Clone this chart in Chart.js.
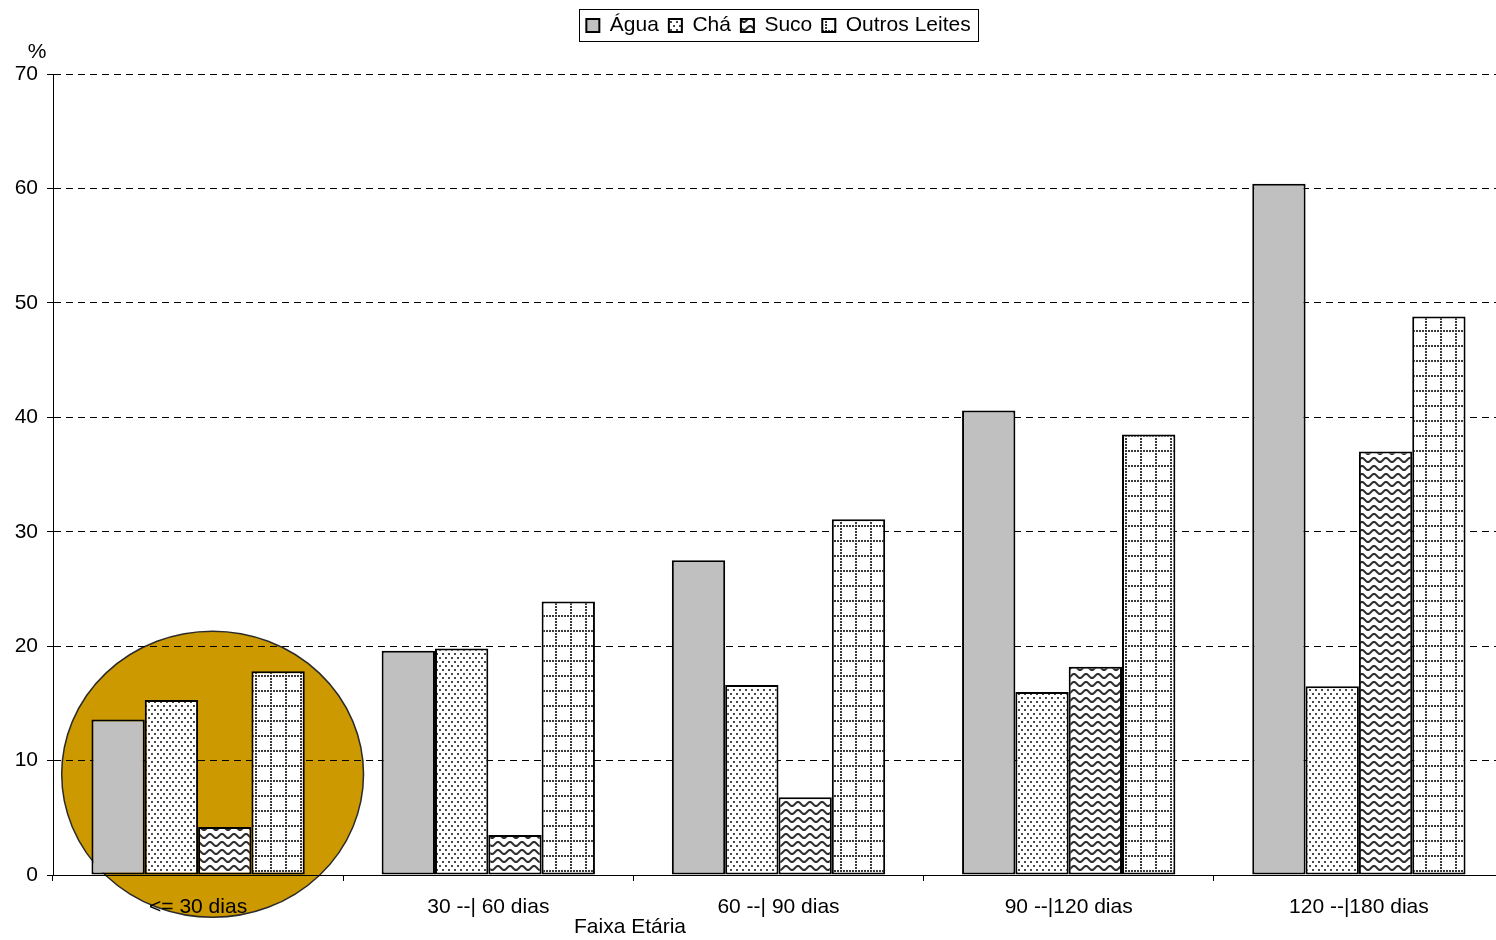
<!DOCTYPE html>
<html>
<head>
<meta charset="utf-8">
<script src="https://cdn.jsdelivr.net/npm/chart.js@4/dist/chart.umd.min.js"></script>
<style>
  html, body { margin: 0; padding: 0; background: #fff; overflow: hidden; }
  /* the plot runs a few pixels past the right edge, as in the original */
  #wrap { width: 1496px; height: 940px; overflow: hidden; }
</style>
</head>
<body>
<div id="wrap"><canvas id="chart" width="1504" height="940"></canvas></div>
<script>
  // data
  var categories = ['<= 30 dias', '30 --| 60 dias', '60 --| 90 dias', '90 --|120 dias', '120 --|180 dias'];
  var seriesNames = ['Água', 'Chá', 'Suco', 'Outros Leites'];
  var agua = [13.6, 19.6, 27.5, 40.6, 60.4];
  var cha = [15.3, 19.8, 16.6, 16.0, 16.5];
  var suco = [4.2, 3.5, 6.8, 18.2, 37.0];
  var outrosLeites = [17.8, 23.9, 31.1, 38.5, 48.8];
  var yMin = 0, yMax = 70, yStep = 10;
  var yUnit = '%';
  var xTitle = 'Faixa Etária';

  var FONT = '"Liberation Sans", Arial, sans-serif';

  function tile(w, h, paint) {
    var c = document.createElement('canvas');
    c.width = w; c.height = h;
    var g = c.getContext('2d');
    g.fillStyle = '#fff';
    g.fillRect(0, 0, w, h);
    paint(g);
    return document.createElement('canvas').getContext('2d').createPattern(c, 'repeat');
  }

  // small dots, staggered
  var dotPattern = tile(6, 8, function (g) {
    g.fillStyle = '#4a4a4a';
    g.fillRect(1, 1, 2, 2);
    g.fillRect(4, 5, 2, 2);
  });

  // wavy lines
  var wavePattern = tile(12, 8, function (g) {
    g.strokeStyle = '#2e2e2e';
    g.lineWidth = 2;
    g.beginPath();
    for (var x = -1; x <= 13; x += 0.5) {
      var y = 4 + 2 * Math.cos(2 * Math.PI * x / 12);
      if (x === -1) g.moveTo(x, y); else g.lineTo(x, y);
    }
    g.stroke();
  });

  // dotted grid
  var gridPattern = tile(15, 15, function (g) {
    g.fillStyle = '#3a3a3a';
    for (var i = 0; i < 15; i += 3) {
      g.fillRect(i, 0, 2, 2);
      if (i > 0) g.fillRect(0, i, 2, 2);
    }
  });

  var fills = ['#c0c0c0', dotPattern, wavePattern, gridPattern];
  var values = [agua, cha, suco, outrosLeites];

  var yTicks = [];
  for (var t = yMin; t <= yMax; t += yStep) yTicks.push(t);

  // golden ellipse behind the first group, gridlines run over it
  var highlightPlugin = {
    id: 'highlight',
    beforeDraw: function (chart) {
      var xs = chart.scales.x, ys = chart.scales.y;
      var catW = xs.width / categories.length;
      var cx = xs.getPixelForValue(0) + 0.05 * catW;
      var cy = ys.getPixelForValue(8.8);
      var rx = 0.52 * catW;
      var ry = ys.getPixelForValue(0) - ys.getPixelForValue(12.5);
      var ctx = chart.ctx;
      ctx.save();
      ctx.beginPath();
      ctx.ellipse(cx, cy, rx, ry, 0, 0, Math.PI * 2);
      ctx.fillStyle = '#cc9900';
      ctx.fill();
      ctx.lineWidth = 1.5;
      ctx.strokeStyle = '#2a2a2a';
      ctx.stroke();
      ctx.restore();
    }
  };

  // legend frame, unit label and x axis title
  var extrasPlugin = {
    id: 'extras',
    afterDraw: function (chart) {
      var ctx = chart.ctx;
      var area = chart.chartArea;
      var boxes = chart.legend.legendHitBoxes;
      ctx.save();
      if (boxes && boxes.length) {
        var l = Infinity, r = -Infinity, tp = Infinity, b = -Infinity;
        boxes.forEach(function (h) {
          l = Math.min(l, h.left); r = Math.max(r, h.left + h.width);
          tp = Math.min(tp, h.top); b = Math.max(b, h.top + h.height);
        });
        ctx.strokeStyle = '#000';
        ctx.lineWidth = 1;
        ctx.strokeRect(Math.round(l - 7) + 0.5, Math.round(tp - 6) + 0.5, Math.round(r - l + 15), Math.round(b - tp + 11));
      }
      ctx.fillStyle = '#000';
      ctx.font = '21px ' + FONT;
      ctx.textAlign = 'center';
      ctx.textBaseline = 'middle';
      ctx.fillText(yUnit, area.left - 16, area.top - 22);
      ctx.fillText(xTitle, 630, area.bottom + 52);
      ctx.restore();
    }
  };

  new Chart(document.getElementById('chart'), {
    type: 'bar',
    data: {
      labels: categories,
      datasets: seriesNames.map(function (name, i) {
        return {
          label: name,
          data: values[i],
          backgroundColor: fills[i],
          borderColor: '#000',
          borderWidth: 2,
          borderSkipped: false,
          categoryPercentage: 0.735,
          barPercentage: 1
        };
      })
    },
    options: {
      responsive: false,
      devicePixelRatio: 1,
      animation: false,
      layout: { padding: { top: 5, right: 0, left: 0, bottom: 0 } },
      plugins: {
        legend: {
          position: 'top',
          fullSize: false,
          labels: {
            color: '#000',
            font: { family: FONT, size: 21 },
            boxWidth: 13,
            boxHeight: 13,
            padding: 10
          }
        },
        // empty title only used as a spacer under the legend
        title: { display: true, text: '', weight: 500, padding: 0, font: { size: 20, lineHeight: 1.4 } },
        tooltip: { enabled: false }
      },
      scales: {
        x: {
          offset: true,
          grid: { display: true, drawOnChartArea: false, offset: true, tickLength: 6, color: '#000' },
          border: { color: '#000', width: 1 },
          ticks: { color: '#000', font: { family: FONT, size: 21 }, padding: 14, maxRotation: 0 },
          afterFit: function (scale) { scale.height = 65; }
        },
        y: {
          min: yMin,
          max: yMax,
          afterBuildTicks: function (scale) {
            scale.ticks = yTicks.map(function (v) { return { value: v }; });
          },
          grid: { color: '#000', lineWidth: 1, tickLength: 6, tickColor: '#000' },
          border: { color: '#000', width: 1, dash: [7, 5] },
          ticks: { color: '#000', font: { family: FONT, size: 21 }, padding: 9 },
          afterFit: function (scale) { scale.width = 53; }
        }
      }
    },
    plugins: [highlightPlugin, extrasPlugin]
  });
</script>
</body>
</html>
